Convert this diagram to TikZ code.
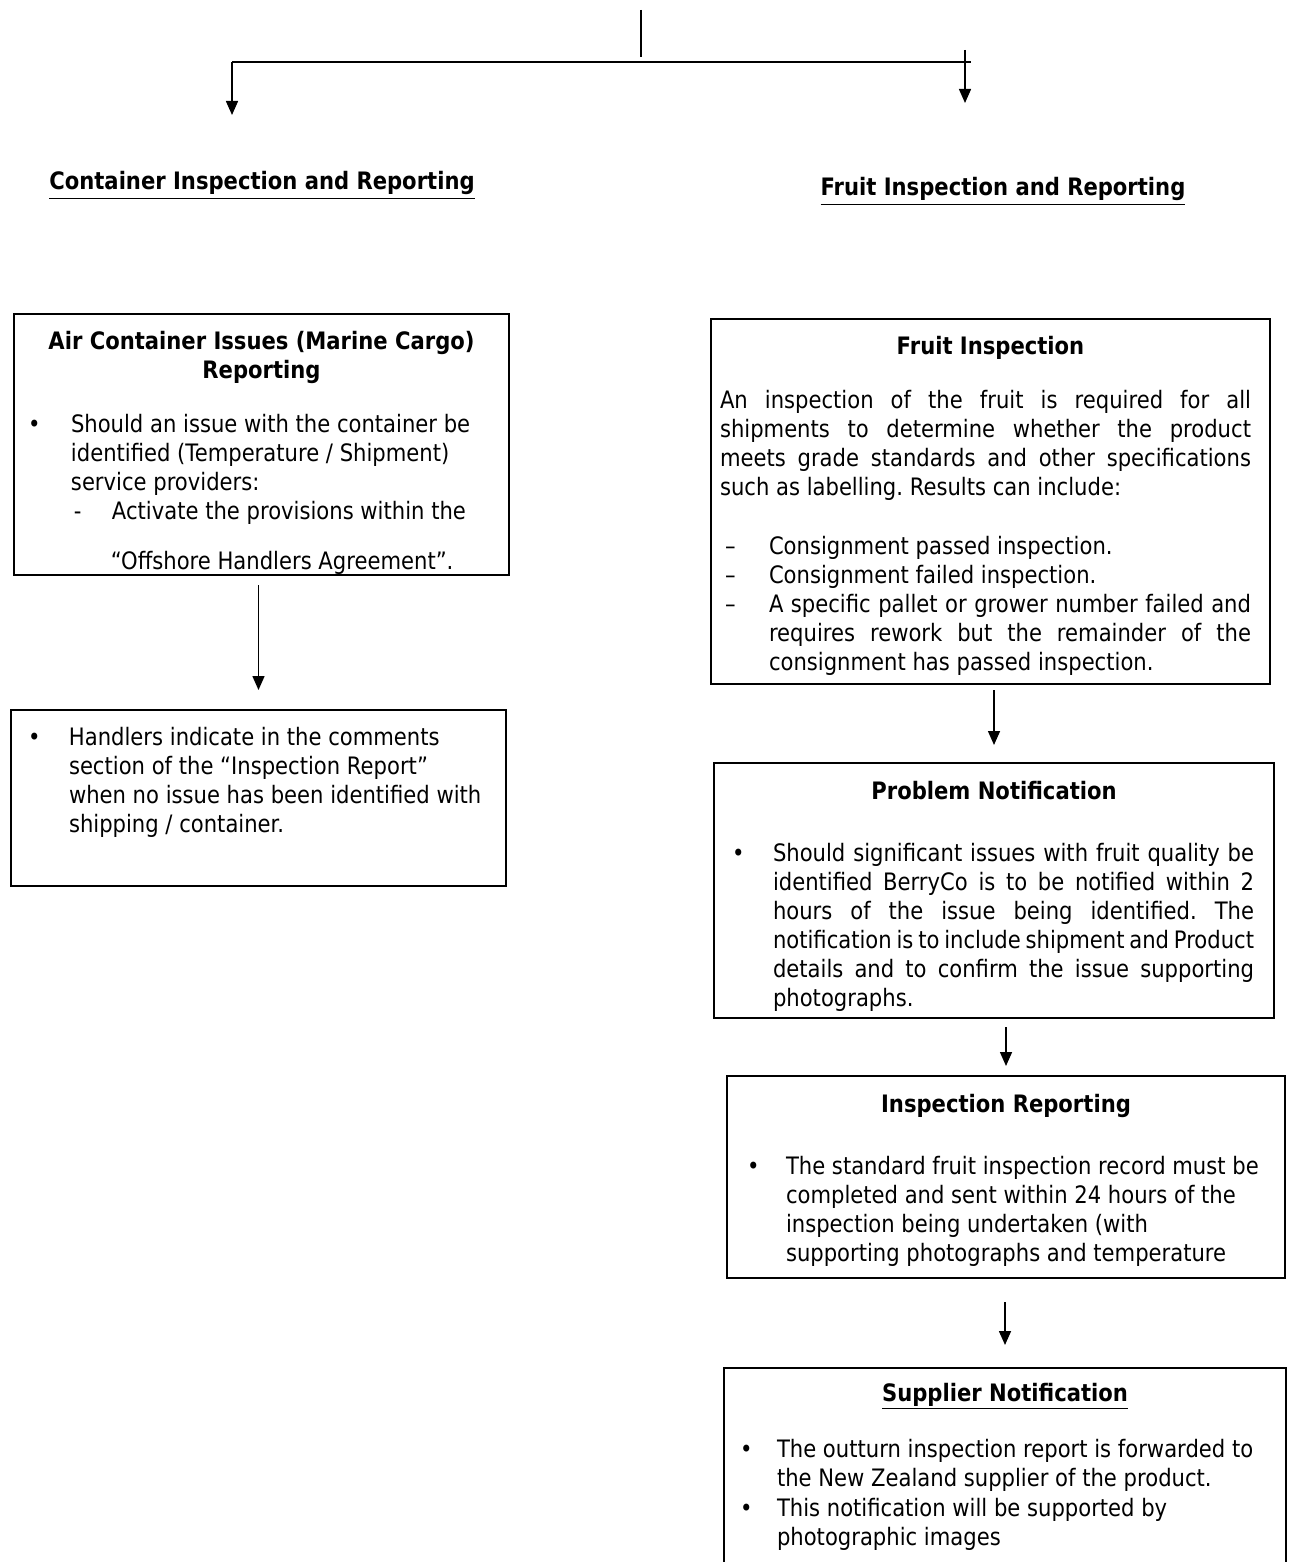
\documentclass[tikz,border=0pt]{standalone}
\usepackage{fontspec}
\setmainfont[FakeStretch=0.88]{DejaVu Sans}
\usetikzlibrary{arrows.meta}
\tikzstyle{line} = [draw, line width=0.75pt, -{Triangle[length=7pt,width=6pt]}]
\tikzstyle{block} = [draw, rectangle, line width=1pt, inner sep=0pt, anchor=north west]
\tikzstyle{heading} = [anchor=base, inner sep=0pt, font=\fontsize{12}{14.5}\selectfont\bfseries]
% box contents: width, height, text
\newcommand{\boxtext}[3]{\parbox[t][#2][t]{#1}{\fontsize{12}{14.5}\selectfont\frenchspacing\setlength{\parindent}{0pt}\setlength{\parskip}{0pt}#3}}
% list entry: label offset, text offset, label
\newcommand{\litem}[3]{\par\hangindent=#2\hangafter=1\noindent\makebox[#2][l]{\hspace*{#1}#3}\ignorespaces}

\begin{document}
\begin{tikzpicture}[x=0.5pt, y=-0.5pt]
    \useasboundingbox (0,0) rectangle (1300,1562);
    % split at the top
    \coordinate (source) at (641,10);
    \coordinate (sourceend) at (641,57);
    \coordinate (lbranch) at (232,62);
    \coordinate (rbranch) at (971,62);
    \coordinate (ltip) at (232,115);
    \coordinate (rstart) at (965,50);
    \coordinate (rtip) at (965,103);
    \draw[line width=0.75pt] (source) -- (sourceend);
    \draw[line width=1.4pt] (lbranch) -- (rbranch);
    \path[line] (lbranch) -- (ltip);
    \path[line] (rstart) -- (rtip);
    \node[heading] (conthead) at (262,190) {\underline{Container Inspection and Reporting}};
    \node[heading] (fruithead) at (1003,196) {\underline{Fruit Inspection and Reporting}};
    % left column
    \node[block] (air) at (13,313) {\boxtext{247.5pt}{130.5pt}{%
        \vspace*{7.35pt}%
        {\centering\bfseries\strut Air Container Issues (Marine Cargo)\\ Reporting\par}
        \vspace{12.5pt}
        \litem{7pt}{28.5pt}{\textbullet}\strut Should an issue with the container be\\ identified (Temperature / Shipment)\\ service providers:
        \litem{30pt}{49pt}{-}Activate the provisions within the\par
        \vspace{10.5pt}
        \noindent\hspace*{48.5pt}“Offshore Handlers Agreement”.\par}};
    \node[block] (handlers) at (10,709) {\boxtext{247.5pt}{88pt}{%
        \vspace*{7.35pt}%
        \litem{8.5pt}{29pt}{\textbullet}\strut Handlers indicate in the comments\\ section of the “Inspection Report”\\ when no issue has been identified with\\ shipping / container.\par}};
    % right column
    \node[block] (fruit) at (710,318) {\boxtext{279.5pt}{182.5pt}{%
        \vspace*{7.35pt}%
        {\centering\bfseries\strut Fruit Inspection\par}
        \vspace{12.5pt}
        \rightskip=9.5pt
        \litem{0pt}{4.5pt}{}\strut An inspection of the fruit is required for all\linebreak shipments to determine whether the product\linebreak meets grade standards and other specifications\linebreak such as labelling. Results can include:\par
        \vspace{15pt}
        \litem{7pt}{29pt}{–}Consignment passed inspection.
        \litem{7pt}{29pt}{–}Consignment failed inspection.
        \litem{7pt}{29pt}{–}A specific pallet or grower number failed and\linebreak requires rework but the remainder of the\linebreak consignment has passed inspection.\par}};
    \node[block] (problem) at (713,762) {\boxtext{280pt}{127.5pt}{%
        \vspace*{7.85pt}%
        {\centering\bfseries\strut Problem Notification\par}
        \vspace{16.5pt}
        \rightskip=10pt
        \spaceskip=3.36pt plus 3pt minus 1.6pt
        \litem{9pt}{29.5pt}{\textbullet}\strut Should significant issues with fruit quality be\linebreak identified BerryCo is to be notified within 2\linebreak hours of the issue being identified. The\linebreak notification is to include shipment and Product\linebreak details and to confirm the issue supporting\linebreak photographs.\par}};
    \node[block] (report) at (726,1075) {\boxtext{279pt}{101pt}{%
        \vspace*{7.85pt}%
        {\centering\bfseries\strut Inspection Reporting\par}
        \vspace{16.5pt}
        \litem{10pt}{29.5pt}{\textbullet}\strut The standard fruit inspection record must be\\ completed and sent within 24 hours of the\\ inspection being undertaken (with\\ supporting photographs and temperature\par}};
    \node[block, draw=none] (supplier) at (724,1368) {\boxtext{280pt}{97pt}{%
        \vspace*{5.85pt}%
        {\centering\bfseries\strut\underline{Supplier Notification}\par}
        \vspace{12.5pt}
        \litem{7.5pt}{26pt}{\textbullet}\strut The outturn inspection report is forwarded to\\ the New Zealand supplier of the product.\par
        \vspace{0.5pt}
        \litem{7.5pt}{26pt}{\textbullet}\strut This notification will be supported by\\ photographic images\par}};
    \draw[line width=1pt] (supplier.south west) -- (supplier.north west) -- (supplier.north east) -- (supplier.south east);
    % connectors
    \path[line, shorten <=4.5pt, shorten >=9.5pt] (air.south -| handlers.north) -- (handlers.north);
    \path[line, shorten <=2.5pt, shorten >=8.5pt] (fruit.south -| problem.north) -- (problem.north);
    \path[line, shorten <=4pt, shorten >=4.5pt] (problem.south -| report.north) -- (report.north);
    \path[line, shorten <=11.5pt, shorten >=11.5pt] (report.south -| supplier.north) -- (supplier.north);
\end{tikzpicture}
\end{document}
